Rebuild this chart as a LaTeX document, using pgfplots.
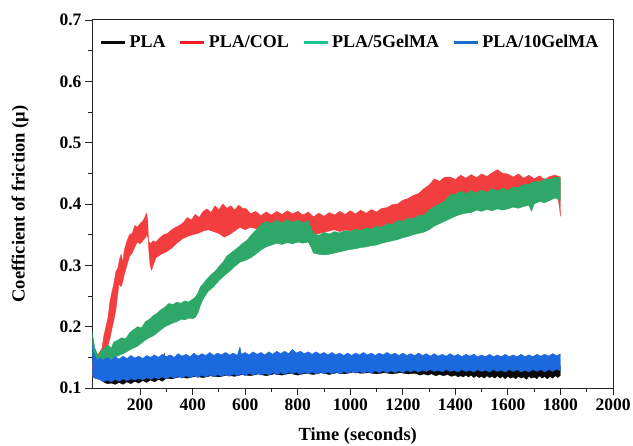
\documentclass[border=0pt]{standalone}
\usepackage{pgfplots}
\pgfplotsset{compat=1.18}
\usepackage{fontspec}
\setmainfont{Liberation Serif}
\definecolor{cblack}{RGB}{10,10,10}
\definecolor{cred}{RGB}{242,62,62}
\definecolor{cgreen}{RGB}{46,168,104}
\definecolor{cblue}{RGB}{28,104,222}
\definecolor{lred}{RGB}{238,28,36}
\definecolor{lgreen}{RGB}{28,196,146}
\definecolor{lblue}{RGB}{22,110,200}
\begin{document}
\begin{tikzpicture}
\begin{axis}[
  width=521pt, height=368pt, scale only axis,
  xmin=17, xmax=2000, ymin=0.1, ymax=0.7,
  xtick={200,400,600,800,1000,1200,1400,1600,1800,2000},
  minor x tick num=1,
  ytick={0.1,0.2,0.3,0.4,0.5,0.6,0.7},
  minor y tick num=1,
  tick align=outside,
  major tick length=7pt, minor tick length=4pt,
  xtick pos=bottom, ytick pos=left,
  axis line style={line width=1pt, black!85},
  every tick/.style={line width=0.9pt, black!85},
  /pgf/number format/assume math mode=true,
  yticklabel style={/pgf/number format/.cd, fixed, fixed zerofill, precision=1},
  xticklabel style={/pgf/number format/.cd, fixed, 1000 sep={}},
  ticklabel style={font=\bfseries\fontsize{17.5}{20}\selectfont},
  xlabel={Time (seconds)},
  ylabel={Coefficient of friction (μ)},
  every axis x label/.style={at={(axis description cs:0.51,-0.130)}, anchor=center, font=\bfseries\fontsize{18.5}{22}\selectfont},
  every axis y label/.style={at={(axis description cs:-0.138,0.5)}, anchor=center, rotate=90, font=\bfseries\fontsize{18.5}{22}\selectfont},
  legend image code/.code={\draw[#1, line width=3.2pt] (0pt,0pt) -- (24pt,0pt);},
  legend columns=-1,
  legend style={draw=none, fill=none, at={(axis description cs:0.014,0.967)}, anchor=north west,
    font=\bfseries\fontsize{18}{20}\selectfont, inner sep=0pt,
    nodes={inner sep=3pt},
    /tikz/every even column/.append style={column sep=10pt}},
]
\addlegendimage{cblack}
\addlegendimage{lred}
\addlegendimage{lgreen}
\addlegendimage{lblue}
\legend{PLA,PLA/COL,PLA/5GelMA,PLA/10GelMA}

% PLA (black): upper envelope then lower envelope backwards
\addplot[forget plot, fill=cblack, draw=cblack, line width=0.4pt, line join=round] coordinates {
(18,0.135) (100,0.130) (200,0.130) (288,0.132) (292,0.157) (296,0.132) (400,0.133) (550,0.134) (554,0.156) (558,0.134) (700,0.136) (1000,0.137) (1300,0.136) (1600,0.135) (1782,0.135) (1785,0.148) (1788,0.135) (1800,0.136)
(1800,0.121) (1790,0.117) (1780,0.120) (1770,0.116) (1760,0.119) (1750,0.115) (1740,0.119) (1730,0.116) (1720,0.120) (1710,0.115) (1700,0.118) (1690,0.116) (1680,0.119) (1670,0.114) (1660,0.118) (1650,0.116) (1640,0.119) (1630,0.115) (1620,0.118) (1610,0.116) (1600,0.119) (1590,0.115) (1580,0.119) (1570,0.116) (1560,0.120) (1550,0.116) (1540,0.119) (1530,0.117) (1520,0.120) (1510,0.116) (1500,0.119) (1490,0.117) (1480,0.120) (1470,0.117) (1460,0.121) (1450,0.118) (1440,0.121) (1430,0.118) (1420,0.120) (1410,0.118) (1400,0.121) (1385,0.119) (1370,0.122) (1355,0.120) (1340,0.122) (1325,0.120) (1310,0.123) (1295,0.121) (1280,0.123) (1265,0.121) (1250,0.124) (1220,0.123) (1190,0.125) (1160,0.123) (1130,0.125) (1100,0.123) (1070,0.125) (1040,0.124) (1010,0.126) (980,0.123) (950,0.125) (920,0.122) (890,0.125) (860,0.122) (830,0.124) (800,0.121) (770,0.124) (740,0.121) (710,0.123) (680,0.120) (650,0.123) (620,0.120) (590,0.122) (560,0.119) (530,0.121) (500,0.118) (470,0.120) (440,0.117) (410,0.119) (380,0.116) (350,0.118) (320,0.115) (300,0.116) (285,0.111) (270,0.114) (255,0.110) (240,0.113) (225,0.109) (210,0.112) (195,0.108) (180,0.111) (165,0.107) (150,0.110) (135,0.106) (120,0.109) (105,0.106) (90,0.108) (75,0.107) (60,0.110) (45,0.115) (30,0.120) (18,0.125)
};

% PLA/COL (red)
\addplot[forget plot, fill=cred, draw=cred, line width=0.4pt, line join=round] coordinates {
(18,0.130) (25,0.160) (35,0.150) (45,0.158) (55,0.165) (62,0.185) (70,0.200) (78,0.215) (85,0.240) (92,0.255) (100,0.270) (108,0.290) (115,0.295) (122,0.310) (128,0.318) (134,0.305) (140,0.325) (150,0.340) (160,0.350) (170,0.352) (180,0.365) (190,0.362) (200,0.368) (210,0.372) (218,0.378) (224,0.385) (229,0.375) (232,0.340) (240,0.335) (250,0.340) (260,0.338) (275,0.345) (290,0.350) (305,0.352) (320,0.358) (335,0.362) (350,0.365) (365,0.370) (380,0.378) (395,0.374) (410,0.383) (425,0.378) (440,0.388) (455,0.392) (470,0.386) (485,0.397) (500,0.391) (515,0.400) (530,0.393) (545,0.397) (560,0.390) (575,0.398) (590,0.393) (605,0.392) (620,0.384) (640,0.388) (660,0.381) (680,0.387) (700,0.382) (720,0.388) (740,0.383) (760,0.389) (780,0.384) (800,0.388) (820,0.382) (840,0.387) (860,0.379) (880,0.385) (900,0.380) (920,0.386) (940,0.382) (960,0.388) (980,0.383) (1000,0.389) (1020,0.384) (1040,0.390) (1060,0.385) (1080,0.391) (1100,0.387) (1120,0.393) (1140,0.394) (1160,0.399) (1180,0.400) (1200,0.406) (1220,0.409) (1240,0.414) (1260,0.417) (1280,0.425) (1300,0.431) (1320,0.441) (1340,0.437) (1360,0.444) (1380,0.444) (1400,0.440) (1420,0.447) (1440,0.442) (1460,0.448) (1480,0.443) (1500,0.449) (1520,0.445) (1540,0.451) (1560,0.456) (1580,0.450) (1600,0.449) (1620,0.444) (1640,0.449) (1660,0.442) (1680,0.447) (1700,0.441) (1720,0.446) (1740,0.440) (1760,0.445) (1780,0.447) (1800,0.444)
(1800,0.380) (1796,0.395) (1790,0.412) (1760,0.410) (1720,0.408) (1680,0.405) (1640,0.408) (1600,0.410) (1560,0.412) (1520,0.408) (1480,0.410) (1440,0.407) (1400,0.405) (1360,0.400) (1320,0.392) (1300,0.385) (1280,0.380) (1260,0.375) (1240,0.372) (1220,0.370) (1200,0.368) (1180,0.366) (1160,0.362) (1140,0.360) (1120,0.358) (1100,0.356) (1080,0.360) (1060,0.357) (1040,0.355) (1020,0.358) (1000,0.356) (980,0.358) (960,0.355) (940,0.358) (920,0.356) (900,0.354) (880,0.352) (860,0.350) (840,0.358) (820,0.362) (800,0.365) (780,0.363) (760,0.366) (740,0.362) (720,0.365) (700,0.360) (680,0.362) (660,0.358) (640,0.360) (620,0.362) (600,0.358) (580,0.362) (560,0.356) (540,0.350) (520,0.346) (500,0.352) (480,0.355) (460,0.358) (440,0.356) (420,0.352) (400,0.350) (380,0.347) (360,0.343) (340,0.336) (320,0.328) (300,0.322) (280,0.318) (260,0.312) (250,0.300) (244,0.292) (238,0.300) (234,0.320) (230,0.345) (226,0.350) (220,0.345) (210,0.340) (200,0.335) (190,0.338) (180,0.330) (170,0.320) (160,0.315) (150,0.300) (140,0.285) (135,0.275) (128,0.265) (120,0.270) (114,0.250) (108,0.228) (100,0.210) (92,0.195) (85,0.180) (78,0.170) (70,0.160) (62,0.150) (55,0.145) (45,0.140) (35,0.130) (25,0.118) (18,0.120)
};

% PLA/5GelMA (green)
\addplot[forget plot, fill=cgreen, draw=cgreen, line width=0.4pt, line join=round] coordinates {
(18,0.190) (22,0.180) (28,0.165) (35,0.158) (42,0.152) (50,0.160) (60,0.163) (70,0.168) (80,0.170) (90,0.165) (100,0.175) (115,0.178) (130,0.182) (145,0.180) (160,0.190) (175,0.195) (190,0.200) (205,0.198) (220,0.208) (235,0.212) (250,0.218) (265,0.222) (280,0.228) (295,0.232) (310,0.238) (325,0.236) (340,0.240) (355,0.238) (370,0.242) (385,0.240) (400,0.245) (410,0.248) (420,0.255) (430,0.265) (440,0.270) (455,0.278) (470,0.285) (485,0.290) (500,0.298) (515,0.305) (530,0.315) (545,0.320) (560,0.325) (575,0.330) (590,0.336) (605,0.340) (620,0.348) (635,0.355) (650,0.362) (665,0.368) (680,0.372) (700,0.368) (720,0.374) (740,0.369) (760,0.375) (780,0.370) (800,0.374) (820,0.369) (840,0.373) (850,0.362) (860,0.352) (880,0.349) (900,0.354) (920,0.351) (940,0.355) (960,0.353) (980,0.357) (1000,0.355) (1020,0.359) (1040,0.357) (1060,0.361) (1080,0.359) (1100,0.364) (1120,0.362) (1140,0.368) (1160,0.367) (1180,0.373) (1200,0.372) (1220,0.377) (1240,0.376) (1260,0.381) (1280,0.382) (1300,0.390) (1320,0.396) (1340,0.400) (1360,0.405) (1380,0.415) (1400,0.416) (1420,0.421) (1440,0.417) (1460,0.422) (1480,0.418) (1500,0.423) (1520,0.419) (1540,0.425) (1560,0.421) (1580,0.426) (1600,0.422) (1620,0.428) (1640,0.427) (1660,0.432) (1680,0.432) (1700,0.437) (1720,0.436) (1740,0.441) (1760,0.440) (1780,0.444) (1800,0.443)
(1800,0.405) (1780,0.410) (1760,0.406) (1740,0.402) (1720,0.404) (1700,0.400) (1690,0.388) (1680,0.398) (1660,0.396) (1640,0.393) (1620,0.395) (1600,0.392) (1580,0.390) (1560,0.392) (1540,0.389) (1520,0.391) (1500,0.388) (1480,0.390) (1460,0.386) (1440,0.385) (1420,0.383) (1400,0.380) (1380,0.376) (1360,0.372) (1340,0.368) (1320,0.364) (1300,0.358) (1280,0.354) (1260,0.352) (1240,0.350) (1220,0.347) (1200,0.345) (1180,0.342) (1160,0.340) (1140,0.338) (1120,0.336) (1100,0.333) (1080,0.332) (1060,0.330) (1040,0.329) (1020,0.327) (1000,0.326) (980,0.324) (960,0.322) (940,0.320) (920,0.318) (900,0.317) (880,0.318) (860,0.320) (850,0.330) (840,0.338) (820,0.336) (800,0.338) (780,0.335) (760,0.337) (740,0.334) (720,0.336) (700,0.333) (680,0.330) (660,0.325) (640,0.318) (620,0.312) (600,0.308) (580,0.305) (560,0.298) (540,0.290) (520,0.283) (500,0.275) (480,0.265) (460,0.258) (440,0.245) (430,0.235) (420,0.222) (410,0.215) (400,0.213) (385,0.214) (370,0.211) (355,0.212) (340,0.208) (325,0.206) (310,0.203) (295,0.200) (280,0.195) (265,0.190) (250,0.185) (235,0.182) (220,0.178) (205,0.173) (190,0.168) (175,0.165) (160,0.162) (145,0.158) (130,0.155) (115,0.152) (100,0.150) (90,0.148) (80,0.145) (70,0.142) (60,0.140) (50,0.137) (42,0.135) (35,0.138) (28,0.142) (22,0.150) (18,0.160)
};

% PLA/10GelMA (blue)
\addplot[forget plot, fill=cblue, draw=cblue, line width=0.4pt, line join=round] coordinates {
(18,0.170) (22,0.160) (30,0.150) (40,0.146) (50,0.149) (60,0.145) (75,0.150) (90,0.146) (105,0.151) (120,0.147) (135,0.152) (150,0.148) (165,0.153) (180,0.149) (195,0.152) (210,0.148) (225,0.153) (240,0.150) (255,0.154) (270,0.150) (285,0.155) (300,0.151) (315,0.154) (330,0.150) (345,0.156) (360,0.152) (375,0.155) (390,0.151) (405,0.157) (420,0.152) (435,0.156) (450,0.153) (465,0.158) (480,0.153) (495,0.157) (510,0.154) (525,0.158) (540,0.154) (555,0.157) (570,0.153) (580,0.167) (585,0.155) (600,0.158) (615,0.154) (630,0.159) (645,0.155) (660,0.158) (675,0.154) (690,0.159) (705,0.155) (720,0.160) (735,0.156) (750,0.160) (765,0.156) (780,0.163) (795,0.157) (810,0.160) (825,0.156) (840,0.159) (855,0.155) (870,0.159) (885,0.155) (900,0.158) (915,0.154) (930,0.158) (945,0.154) (960,0.157) (975,0.153) (990,0.157) (1005,0.153) (1020,0.157) (1035,0.154) (1050,0.158) (1065,0.154) (1080,0.157) (1095,0.153) (1110,0.157) (1125,0.154) (1140,0.158) (1155,0.154) (1170,0.157) (1185,0.153) (1200,0.157) (1215,0.153) (1230,0.156) (1245,0.153) (1260,0.157) (1275,0.153) (1290,0.156) (1305,0.152) (1320,0.156) (1335,0.152) (1350,0.155) (1365,0.152) (1380,0.156) (1395,0.152) (1410,0.155) (1425,0.151) (1440,0.155) (1455,0.152) (1470,0.155) (1485,0.151) (1500,0.154) (1515,0.151) (1530,0.155) (1545,0.151) (1560,0.154) (1575,0.151) (1590,0.155) (1605,0.151) (1620,0.154) (1635,0.151) (1650,0.155) (1665,0.151) (1680,0.154) (1695,0.151) (1710,0.155) (1725,0.152) (1740,0.155) (1755,0.152) (1770,0.156) (1785,0.153) (1800,0.155)
(1800,0.128) (1785,0.131) (1770,0.127) (1755,0.130) (1740,0.126) (1725,0.130) (1710,0.127) (1695,0.130) (1680,0.126) (1665,0.129) (1650,0.126) (1635,0.130) (1620,0.127) (1605,0.130) (1590,0.126) (1575,0.129) (1560,0.127) (1545,0.130) (1530,0.126) (1515,0.129) (1500,0.127) (1485,0.130) (1470,0.126) (1455,0.129) (1440,0.127) (1425,0.130) (1410,0.126) (1395,0.129) (1380,0.127) (1365,0.130) (1350,0.126) (1335,0.129) (1320,0.127) (1305,0.130) (1290,0.127) (1275,0.129) (1260,0.126) (1245,0.129) (1230,0.126) (1215,0.129) (1200,0.125) (1185,0.128) (1170,0.125) (1155,0.128) (1140,0.125) (1125,0.128) (1110,0.125) (1095,0.128) (1080,0.124) (1065,0.127) (1050,0.124) (1035,0.127) (1020,0.124) (1005,0.127) (990,0.124) (975,0.127) (960,0.123) (945,0.126) (930,0.123) (915,0.126) (900,0.123) (885,0.126) (870,0.123) (855,0.126) (840,0.123) (825,0.126) (810,0.122) (795,0.126) (780,0.123) (765,0.126) (750,0.122) (735,0.125) (720,0.122) (705,0.125) (690,0.121) (675,0.124) (660,0.121) (645,0.124) (630,0.121) (615,0.124) (600,0.120) (585,0.123) (570,0.120) (555,0.123) (540,0.119) (525,0.122) (510,0.119) (495,0.122) (480,0.118) (465,0.121) (450,0.118) (435,0.121) (420,0.117) (405,0.120) (390,0.117) (375,0.120) (360,0.116) (345,0.119) (330,0.116) (315,0.119) (300,0.115) (285,0.118) (270,0.115) (255,0.117) (240,0.114) (225,0.117) (210,0.113) (195,0.116) (180,0.113) (165,0.115) (150,0.112) (135,0.115) (120,0.111) (105,0.114) (90,0.110) (75,0.113) (60,0.110) (45,0.114) (30,0.115) (22,0.118) (18,0.125)
};
\end{axis}
\pgfresetboundingbox
\useasboundingbox ([shift={(-92pt,-58pt)}]current axis.south west) rectangle ([shift={(20pt,20pt)}]current axis.north east);
\end{tikzpicture}
\end{document}
